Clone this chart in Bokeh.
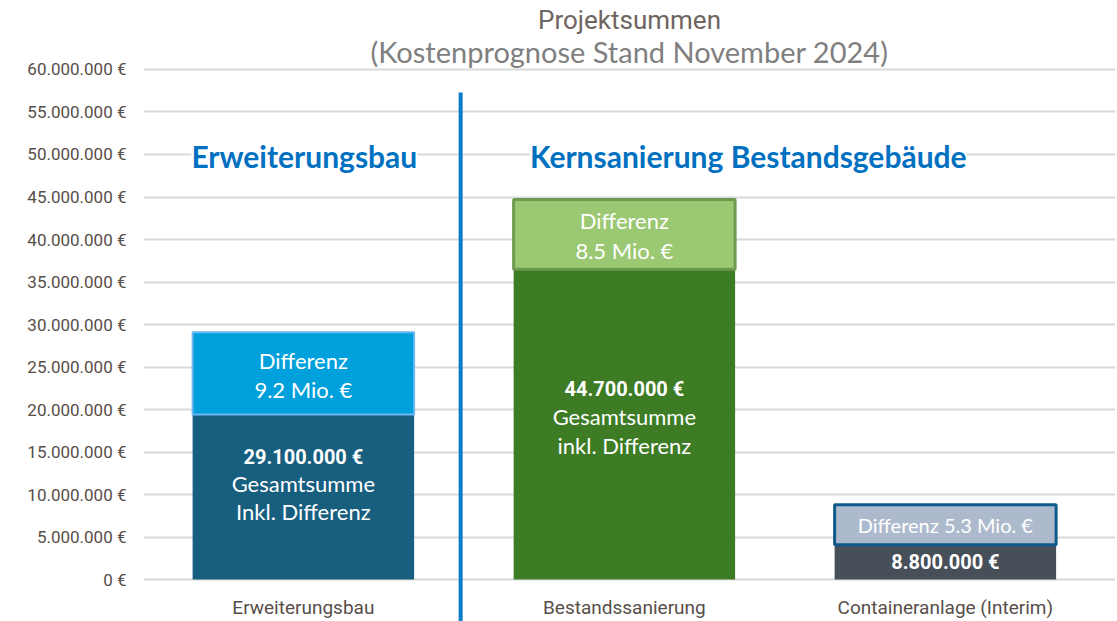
from bokeh.plotting import figure
from bokeh.models import (Range1d, FixedTicker, CustomJSTickFormatter, ColumnDataSource,
                          Title, Label)
from bokeh.core.properties import value
from bokeh.embed import file_html
from bokeh.resources import INLINE

# ---------------- data ----------------
categories = ["Erweiterungsbau", "Bestandssanierung", "Containeranlage (Interim)"]
totals = [29_100_000, 44_700_000, 8_800_000]          # top of each stacked bar
base_values = [19_400_000, 36_500_000, 4_100_000]     # lower segment (as drawn)
total_labels = ["29.100.000 €", "44.700.000 €", "8.800.000 €"]
diff_line1 = ["Differenz", "Differenz", "Differenz 5.3 Mio. €"]
diff_line2 = ["9.2 Mio. €", "8.5 Mio. €", ""]
sum_line1 = ["Gesamtsumme", "Gesamtsumme", ""]
sum_line2 = ["Inkl. Differenz", "inkl. Differenz", ""]
y_ticks = [0, 5_000_000, 10_000_000, 15_000_000, 20_000_000, 25_000_000, 30_000_000,
           35_000_000, 40_000_000, 45_000_000, 50_000_000, 55_000_000, 60_000_000]
section_titles = ["Erweiterungsbau", "Kernsanierung Bestandsgebäude"]
title_text = "Projektsummen"
subtitle_text = "(Kostenprognose Stand November 2024)"

# ---------------- styles ----------------
base_colors = ["#175e7f", "#3d7b24", "#474f59"]
diff_colors = ["#00a0dc", "#9bc872", "#adb9cc"]
diff_borders = ["#6ab8f2", "#6e9a4f", "#0f5a8c"]
diff_border_w = [2, 3, 3]
d1_offsets = [-13, -14, 0]
d2_offsets = [16, 16, 0]
d_sizes = ["22px", "22px", "20px"]
tot_offsets = [-40, -35, 0]
s1_offsets = [-14, -8, 0]
s2_offsets = [14, 21, 0]
COND = "Roboto"
CAL = "Lato"
AXIS_COL = "#574e49"

xs = list(range(len(categories)))
src = ColumnDataSource(dict(
    x=xs, base=base_values, top=totals, zero=[0] * len(xs),
    base_mid=[b / 2 for b in base_values],
    diff_mid=[(b + t) / 2 for b, t in zip(base_values, totals)],
    base_col=base_colors, diff_col=diff_colors, diff_bd=diff_borders, diff_bw=diff_border_w,
    total_labels=total_labels, d1=diff_line1, d2=diff_line2, s1=sum_line1, s2=sum_line2,
    d1_off=d1_offsets, d2_off=d2_offsets, d_size=d_sizes, tot_off=tot_offsets,
    s1_off=s1_offsets, s2_off=s2_offsets,
    cat=categories, cat_y=[-3_290_000] * len(xs),
))

p = figure(width=1117, height=621, output_backend="svg", toolbar_location=None,
           x_range=Range1d(-0.498, 2.530), y_range=Range1d(-4_940_000, 60_235_000),
           title=title_text, min_border_left=143, min_border_right=2,
           min_border_bottom=0, min_border_top=67)
p.title.text_font = COND
p.title.text_font_size = "26px"
p.title.text_font_style = "normal"
p.title.text_color = "#6f6560"
p.title.align = "center"
p.title.standoff = -5
sub = Title(text=subtitle_text, text_font=CAL, text_font_size="29px", text_font_style="normal",
            text_color="#7f7f7f", align="center", standoff=-2)
p.add_layout(sub, "above")

p.outline_line_color = None
p.background_fill_color = "white"
p.border_fill_color = "white"
p.xgrid.visible = False
p.xaxis.visible = False
p.ygrid.ticker = FixedTicker(ticks=y_ticks)
p.ygrid.grid_line_color = "#d9d9d9"
p.ygrid.grid_line_width = 2
yax = p.yaxis[0]
yax.ticker = FixedTicker(ticks=y_ticks)
yax.formatter = CustomJSTickFormatter(code="""
    return Math.round(tick).toString().replace(/\\B(?=(\\d{3})+(?!\\d))/g, '.') + ' €';
""")
yax.axis_line_color = None
yax.major_tick_line_color = None
yax.minor_tick_line_color = None
yax.major_tick_out = 0
yax.major_tick_in = 0
yax.major_label_standoff = 17
yax.major_label_text_font = COND
yax.major_label_text_font_size = "17px"
yax.major_label_text_color = AXIS_COL

# bars
p.vbar(x="x", width=0.69, bottom="zero", top="base", source=src,
       fill_color="base_col", line_color=None)
p.vbar(x="x", width=0.69, bottom="base", top="top", source=src,
       fill_color="diff_col", line_color="diff_bd", line_width="diff_bw")

# divider
divider_x = 0.49
p.segment(x0=[divider_x], x1=[divider_x], y0=[-10_000_000], y1=[57_300_000],
          line_color="#0a7cc8", line_width=4)

# texts inside bars
p.text(x="x", y="diff_mid", text="d1", source=src, text_align="center",
       text_baseline="middle", y_offset="d1_off", text_color="white",
       text_font=value(CAL), text_font_size="d_size")
p.text(x="x", y="diff_mid", text="d2", source=src, text_align="center",
       text_baseline="middle", y_offset="d2_off", text_color="white",
       text_font=value(CAL), text_font_size="22px")
p.text(x="x", y="base_mid", text="total_labels", source=src, text_align="center",
       text_baseline="middle", y_offset="tot_off", text_color="white",
       text_font=value(COND), text_font_size="20px", text_font_style="bold")
p.text(x="x", y="base_mid", text="s1", source=src, text_align="center",
       text_baseline="middle", y_offset="s1_off", text_color="white",
       text_font=value(CAL), text_font_size="22px")
p.text(x="x", y="base_mid", text="s2", source=src, text_align="center",
       text_baseline="middle", y_offset="s2_off", text_color="white",
       text_font=value(CAL), text_font_size="22px")

# category labels (below zero line)
p.text(x="x", y="cat_y", text="cat", source=src, text_align="center",
       text_baseline="middle", text_color=AXIS_COL,
       text_font=value(COND), text_font_size="19px")

# section headings
for sx, txt in zip([0.003, 1.386], section_titles):
    p.add_layout(Label(x=sx, y=49_800_000, text=txt, text_align="center",
                       text_baseline="middle", text_font=CAL, text_font_size="30px",
                       text_font_style="bold", text_color="#0070c0",
                       background_fill_color="white", background_fill_alpha=1.0))

open("out.html", "w").write(file_html(p, INLINE))
